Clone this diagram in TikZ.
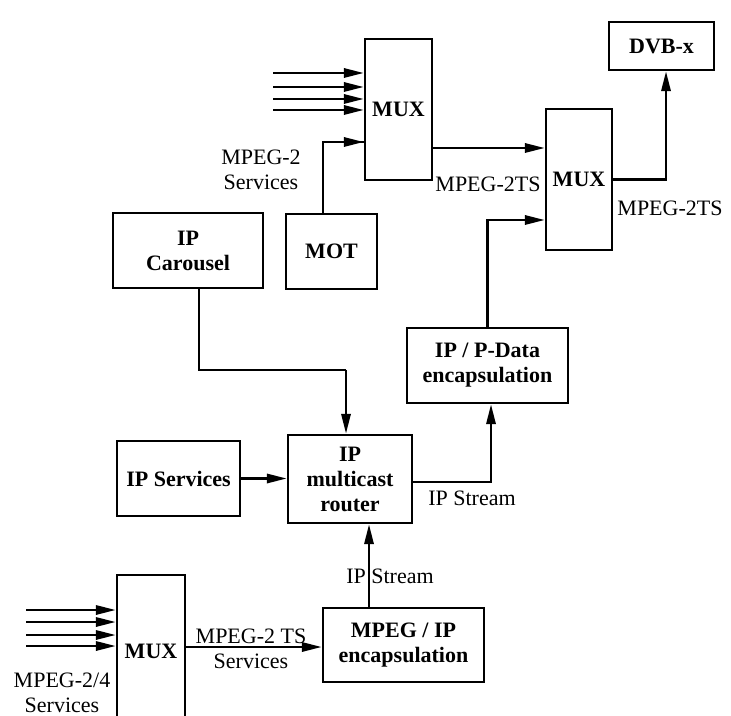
\documentclass[tikz,border=0pt]{standalone}
\usepackage{fontspec}
\setmainfont{Liberation Serif}
\usetikzlibrary{arrows.meta}

\begin{document}
\begin{tikzpicture}[
    x=0.5pt, y=-0.5pt,
    box/.style={draw, line width=1.2pt, align=center, inner sep=1pt,
        font=\fontsize{11}{12.5}\selectfont\bfseries},
    arr/.style={line width=1.3pt, -{Triangle[length=10pt,width=4.6pt]}},
    thinline/.style={line width=0.8pt},
    lbl/.style={align=center, inner sep=0pt, font=\fontsize{11}{12.5}\selectfont}
]
\useasboundingbox (0,0) rectangle (731,715);
\clip (0,0) rectangle (731,715);

% blocks
\node[box, minimum width=33.5pt, minimum height=70.5pt] (muxa) at (398.5,109.5) {MUX};
\node[box, minimum width=33pt, minimum height=70.5pt] (muxb) at (579,179.5) {MUX};
\node[box, minimum width=52.5pt, minimum height=24pt] (dvb) at (661.5,46) {DVB-x};
\node[box, minimum width=75pt, minimum height=37.5pt] (carousel) at (188,250.5) {IP\\Carousel};
\node[box, minimum width=45.5pt, minimum height=37.5pt] (mot) at (331.5,251.5) {MOT};
\node[box, minimum width=80.5pt, minimum height=37.5pt] (ipdata) at (487.5,365.5) {IP / P-Data\\encapsulation};
\node[box, minimum width=61.5pt, minimum height=37.5pt] (ipserv) at (178.5,478.5) {IP Services};
\node[box, minimum width=62pt, minimum height=44pt] (router) at (350,479) {IP\\multicast\\router};
\node[box, minimum width=80.5pt, minimum height=37pt] (mpegip) at (403.5,645) {MPEG / IP\\encapsulation};
\node[box, minimum width=34pt, minimum height=76pt] (muxc) at (151,651) {MUX};

% inputs of the two outer MUX blocks
\foreach \y [count=\i] in {73,87,99,110} {
    \coordinate (ina\i) at (273,\y);
    \draw[arr] (ina\i) -- (ina\i -| muxa.west);
}
\foreach \y [count=\i] in {610,622,635,646} {
    \coordinate (inc\i) at (26,\y);
    \draw[arr] (inc\i) -- (inc\i -| muxc.west);
}

% connectors
\draw[thinline] ([xshift=-4.25pt]mot.north) |- ([yshift=-16.25pt]muxa.west);
\draw[arr] ([xshift=-9pt,yshift=-16.25pt]muxa.west) -- ([yshift=-16.25pt]muxa.west);
\draw[arr] ([yshift=-19.25pt]muxa.east) -- ([yshift=-19.25pt]muxa.east -| muxb.west);
\draw[arr] (muxb.east) -| ([xshift=2.25pt]dvb.south);
\draw[arr] (ipdata.north) |- ([yshift=-20.25pt]muxb.west);
\draw[thinline] ([xshift=5.5pt]carousel.south) |- ([xshift=-2pt,yshift=32pt]router.north);
\draw[arr] ([xshift=-2pt,yshift=32pt]router.north) -- ([xshift=-2pt]router.north);
\draw[arr] (ipserv.east) -- (ipserv.east -| router.west);
\draw[arr] ([yshift=-1.5pt]router.east) -| ([xshift=1.75pt]ipdata.south);
\draw[arr] ([xshift=9.5pt]router.south |- mpegip.north) -- ([xshift=9.5pt]router.south);
\draw[arr] ([yshift=2pt]muxc.east) -- ([yshift=2pt]muxc.east -| mpegip.west);

% labels
\node[lbl] (l1) at (261,170) {MPEG-2\\Services};
\node[lbl] (l2) at (488,184) {MPEG-2TS};
\node[lbl] (l3) at (670,208) {MPEG-2TS};
\node[lbl] (l4) at (472,498) {IP Stream};
\node[lbl] (l5) at (390,576) {IP Stream};
\node[lbl] (l6) at (251,649) {MPEG-2 TS\\Services};
\node[lbl] (l7) at (62,693) {MPEG-2/4\\Services};
\end{tikzpicture}
\end{document}
